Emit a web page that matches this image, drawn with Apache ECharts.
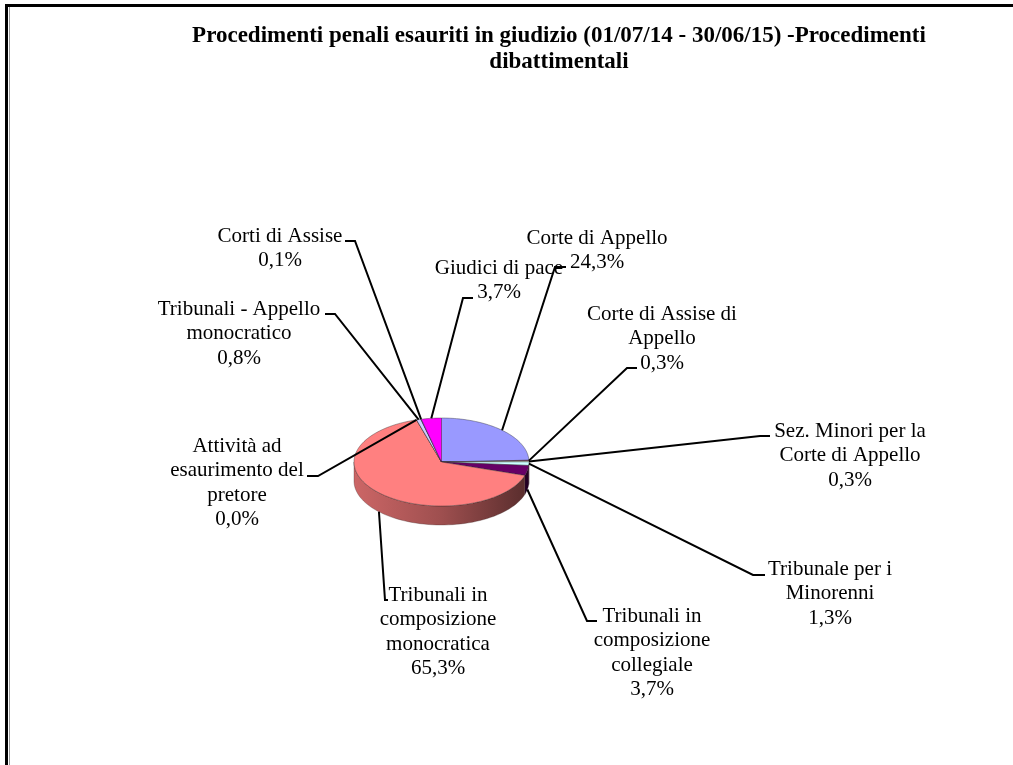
<!DOCTYPE html>
<html>
<head>
<meta charset="utf-8">
<style>
  html, body { margin: 0; padding: 0; background: #fff; }
  #chart { width: 1013px; height: 765px; }
</style>
<script src="https://cdn.jsdelivr.net/npm/echarts@6/dist/echarts.min.js"></script>
</head>
<body>
<div id="chart"></div>
<script>
const titleText = 'Procedimenti penali esauriti in giudizio (01/07/14 - 30/06/15) -Procedimenti\ndibattimentali'

const categories = [
  'Corte di Appello',
  'Corte di Assise di\nAppello',
  'Sez. Minori per la\nCorte di Appello',
  'Tribunale per i\nMinorenni',
  'Tribunali in\ncomposizione\ncollegiale',
  'Tribunali in\ncomposizione\nmonocratica',
  'Attività ad\nesaurimento del\npretore',
  'Tribunali - Appello\nmonocratico',
  'Corti di Assise',
  'Giudici di pace',
]
const values = [24.3, 0.3, 0.3, 1.3, 3.7, 65.3, 0.0, 0.8, 0.1, 3.7]
const colors = ['#9999FF', '#993366', '#FFFFCC', '#CCFFFF', '#660066', '#FF8080', '#0066CC', '#CCCCFF', '#000080', '#FF00FF']

// layout only: centre of the text block (x) and top of its first line (y)
const labelPos = [[597, 226], [662, 302], [850, 419], [830, 557], [652, 604], [438, 583], [237, 434], [239, 297], [280, 224], [499, 256]]
// elbow of each leader line, from the label towards the pie
const elbows = [
  [[566, 267], [555, 267]],
  [[637, 368], [627, 368]],
  [[770, 436], [760, 436]],
  [[765, 575], [753, 575]],
  [[597, 621], [587, 621]],
  [[388, 600], [385, 600]],
  [[307, 476], [318, 476]],
  [[325, 314], [335, 314]],
  [[345, 241], [355, 241]],
  [[473, 298], [463, 298]],
]

const cx = 441.5, cy = 462, rx = 87.5, ry = 44, depth = 19
const total = values.reduce((a, b) => a + b, 0)
const FONT = '"Liberation Serif", "Times New Roman", serif'

function rim(t) {
  return [cx + rx * Math.sin(t), cy - ry * Math.cos(t)]
}
function sliceAngles(i) {
  let before = 0
  for (let k = 0; k < i; k++) before += values[k]
  return [before / total * 2 * Math.PI, (before + values[i]) / total * 2 * Math.PI]
}
function darken(hex, f) {
  const c = echarts.color.parse(hex)
  return `rgb(${ Math.round(c[0] * f) },${ Math.round(c[1] * f) },${ Math.round(c[2] * f) })`
}

function renderSlice(params) {
  const i = params.dataIndex
  const [a0, a1] = sliceAngles(i)
  const children = []

  // side wall, only the front half of the rim shows
  const w0 = Math.max(a0, Math.PI / 2), w1 = Math.min(a1, Math.PI * 1.5)
  if (w1 > w0) {
    const top = [], bottom = []
    for (let s = 0; s <= 60; s++) {
      const p = rim(w0 + (w1 - w0) * s / 60)
      top.push(p)
      bottom.unshift([p[0], p[1] + depth])
    }
    children.push({
      type: 'polygon',
      shape: { points: top.concat(bottom) },
      style: {
        // the wall goes light to dark, left to right over the whole pie
        fill: new echarts.graphic.LinearGradient(cx - rx, 0, cx + rx, 0, [
          { offset: 0, color: darken(colors[i], 0.8) },
          { offset: 0.5, color: darken(colors[i], 0.62) },
          { offset: 1, color: darken(colors[i], 0.34) },
        ], true),
        stroke: 'rgba(60,40,40,0.6)',
        lineWidth: 0.5,
      },
    })
  }

  // top face
  const pts = [[cx, cy]]
  const steps = Math.max(2, Math.ceil((a1 - a0) * 40))
  for (let s = 0; s <= steps; s++) pts.push(rim(a0 + (a1 - a0) * s / steps))
  children.push({
    type: 'polygon',
    shape: { points: pts },
    style: { fill: colors[i], stroke: 'rgba(40,40,40,0.65)', lineWidth: 0.6 },
  })
  return { type: 'group', children }
}

function renderLabel(params) {
  const i = params.dataIndex
  const [a0, a1] = sliceAngles(i)
  const mid = (a0 + a1) / 2
  const p = rim(mid)
  // lower half: the leader stops on the side wall
  const end = [p[0], Math.cos(mid) < -0.05 ? p[1] + depth : p[1]]
  return {
    type: 'group',
    children: [{
      type: 'polyline',
      shape: { points: elbows[i].concat([end]) },
      style: { fill: null, stroke: '#000', lineWidth: 2 },
    }, {
      type: 'text',
      style: {
        text: categories[i] + '\n' + values[i].toFixed(1).replace('.', ',') + '%',
        x: labelPos[i][0],
        y: labelPos[i][1],
        fill: '#000',
        font: '21px ' + FONT,
        lineHeight: 24.5,
        textAlign: 'center',
        textVerticalAlign: 'top',
      },
    }],
  }
}

const chart = echarts.init(document.getElementById('chart'))
chart.setOption({
  animation: false,
  backgroundColor: '#fff',
  title: {
    text: titleText,
    left: 554,
    top: 18,
    textAlign: 'center',
    textStyle: { fontFamily: FONT, fontSize: 23, fontWeight: 'bold', color: '#000', lineHeight: 26 },
  },
  graphic: [
    { type: 'rect', shape: { x: 5, y: 4, width: 1008, height: 3 }, style: { fill: '#000' } },
    { type: 'rect', shape: { x: 5, y: 4, width: 3, height: 761 }, style: { fill: '#000' } },
    { type: 'rect', shape: { x: 9, y: 7, width: 1, height: 758 }, style: { fill: '#999' } },
  ],
  series: [{
    type: 'custom',
    coordinateSystem: 'none',
    renderItem: renderSlice,
    data: values,
    silent: true,
    z: 2,
  }, {
    type: 'custom',
    coordinateSystem: 'none',
    renderItem: renderLabel,
    data: values,
    silent: true,
    z: 3,
  }],
})
</script>
</body>
</html>
